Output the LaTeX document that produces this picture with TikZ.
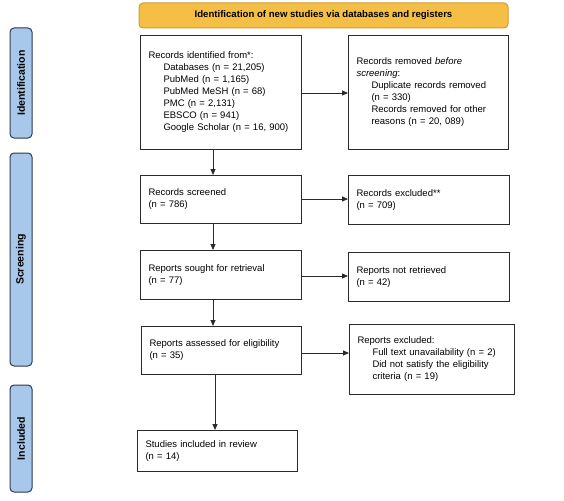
\documentclass[tikz,border=0pt]{standalone}
\usepackage{fontspec}
\setmainfont{Liberation Sans}
\usetikzlibrary{arrows.meta}
\definecolor{bannerfill}{HTML}{F5BF45}
\definecolor{bannerdraw}{HTML}{D09B36}
\definecolor{sidefill}{HTML}{A7C8EA}
\definecolor{sidedraw}{HTML}{2B3A4F}
\definecolor{boxdraw}{HTML}{2A2A2A}
\tikzset{
  flowbox/.style={draw=boxdraw, line width=1pt, fill=white, inner xsep=8pt, inner ysep=2pt,
    align=left, font=\fontsize{9.5}{12}\selectfont, anchor=north west},
  sidelabel/.style={draw=sidedraw, line width=1pt, fill=sidefill, rounded corners=4pt,
    font=\bfseries\fontsize{10.5}{12}\selectfont, rotate=90, inner sep=0pt},
  conn/.style={draw=boxdraw, line width=0.8pt, -{Triangle[length=6pt,width=5pt]}},
}
\newcommand{\ind}{\hspace*{15pt}}
\begin{document}
\begin{tikzpicture}[x=1pt,y=-1pt]
\useasboundingbox (0,0) rectangle (564,500);
% banner
\node[draw=bannerdraw, line width=1pt, fill=bannerfill, rounded corners=4pt,
  minimum width=369pt, minimum height=25pt, inner sep=0pt,
  font=\bfseries\fontsize{9.6}{11}\selectfont] (banner) at (323.5,15.5)
  {Identification of new studies via databases and registers};
% side labels
\node[sidelabel, minimum width=110pt, minimum height=22pt] (sideid) at (21,83) {Identification};
\node[sidelabel, minimum width=213pt, minimum height=22pt] (sidescr) at (21,259.5) {Screening};
\node[sidelabel, minimum width=107pt, minimum height=22pt] (sideinc) at (21,438.5) {Included};
% boxes
\node[flowbox, text width=145pt, minimum height=114pt] (ident) at (140,35)
  {Records identified from*:\\
   \ind Databases (n = 21,205)\\
   \ind PubMed (n = 1,165)\\
   \ind PubMed MeSH (n = 68)\\
   \ind PMC (n = 2,131)\\
   \ind EBSCO (n = 941)\\
   \ind Google Scholar (n = 16, 900)};
\node[flowbox, text width=144pt, minimum height=114pt] (removed) at (348,35)
  {Records removed \textit{before}\\
   \textit{screening}:\\
   \ind Duplicate records removed\\
   \ind (n = 330)\\
   \ind Records removed for other\\
   \ind reasons (n = 20, 089)};
\node[flowbox, text width=145pt, minimum height=48pt] (screened) at (140,175)
  {Records screened\\(n = 786)};
\node[flowbox, text width=145pt, minimum height=49pt] (excluded) at (348,175)
  {Records excluded**\\(n = 709)};
\node[flowbox, text width=145pt, minimum height=49pt] (sought) at (140,250)
  {Reports sought for retrieval\\(n = 77)};
\node[flowbox, text width=145pt, minimum height=49pt] (notret) at (348,252)
  {Reports not retrieved\\(n = 42)};
\node[flowbox, text width=144pt, minimum height=48pt] (assessed) at (141,326)
  {Reports assessed for eligibility\\(n = 35)};
\node[flowbox, text width=149pt, minimum height=70pt] (repexcl) at (349,324)
  {Reports excluded:\\
   \ind Full text unavailability (n = 2)\\
   \ind Did not satisfy the eligibility\\
   \ind criteria (n = 19)};
\node[flowbox, text width=144pt, minimum height=41pt] (included) at (137,430)
  {Studies included in review\\(n = 14)};
% connectors
\draw[conn] (ident.east |- 0,93) -- (removed.west |- 0,93);
\draw[conn] (screened.east |- 0,199) -- (excluded.west |- 0,199);
\draw[conn] (sought.east |- 0,276) -- (notret.west |- 0,276);
\draw[conn] (assessed.east |- 0,353) -- (repexcl.west |- 0,353);
\draw[conn] (ident.south -| 213,0) -- (screened.north -| 213,0);
\draw[conn] (screened.south -| 213,0) -- (sought.north -| 213,0);
\draw[conn] (sought.south -| 213,0) -- (assessed.north -| 213,0);
\draw[conn] (assessed.south -| 215,0) -- (included.north -| 215,0);
\end{tikzpicture}
\end{document}
